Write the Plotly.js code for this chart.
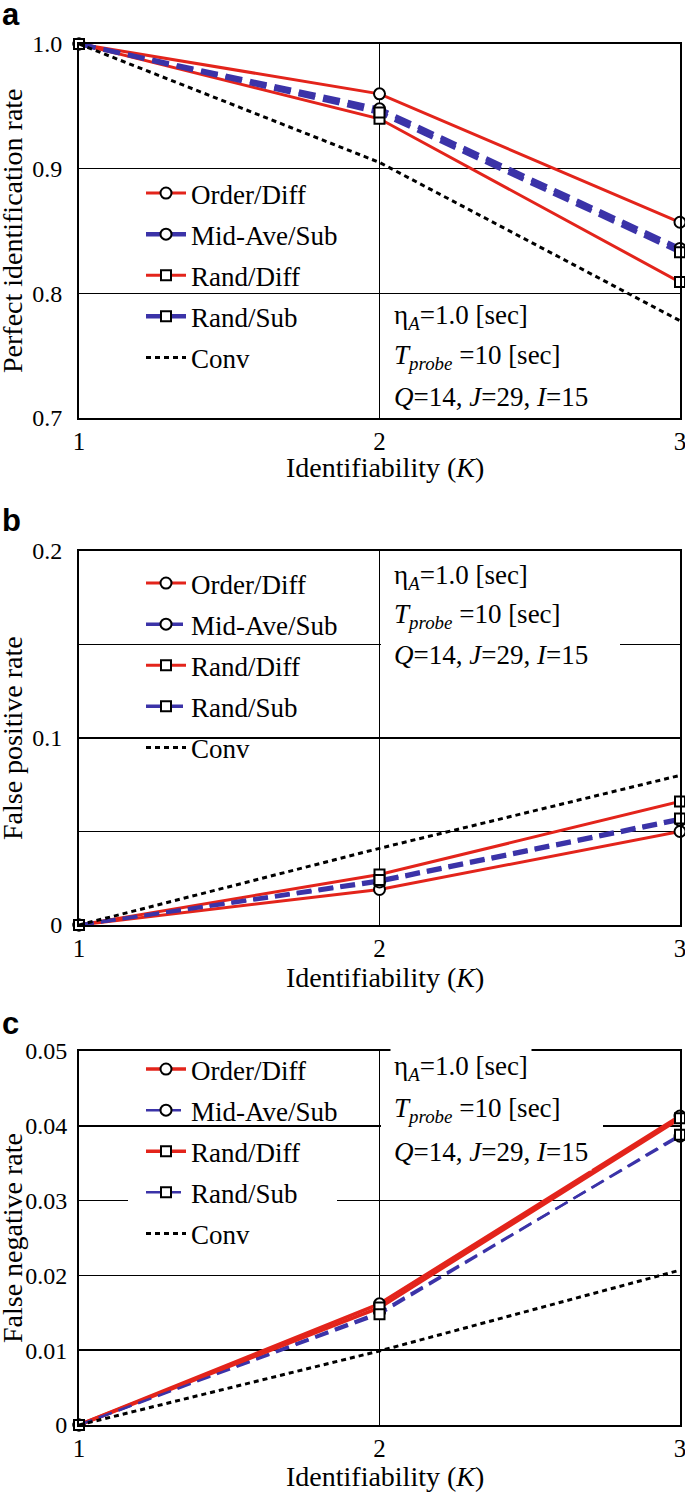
<!DOCTYPE html>
<html>
<head>
<meta charset="utf-8">
<script src="https://cdn.plot.ly/plotly-3.0.1.min.js"></script>
<style>html,body{margin:0;padding:0;background:#fff;}#chart{width:685px;height:1492px;}</style>
</head>
<body>
<div id="chart"></div>
<script>
// ---- data ----
const K = [1, 2, 3];
const seriesNames = ['Order/Diff', 'Mid-Ave/Sub', 'Rand/Diff', 'Rand/Sub', 'Conv'];

// (a) Perfect identification rate
const orderDiffA = [1.0, 0.960, 0.857];
const midAveSubA = [1.0, 0.948, 0.836];
const randDiffA  = [1.0, 0.940, 0.809];
const randSubA   = [1.0, 0.945, 0.833];
const convA      = [1.0, 0.905, 0.778];

// (b) False positive rate
const orderDiffB = [0, 0.019, 0.050];
const midAveSubB = [0, 0.023, 0.056];
const randDiffB  = [0, 0.027, 0.066];
const randSubB   = [0, 0.024, 0.057];
const convB      = [0, 0.041, 0.080];

// (c) False negative rate
const orderDiffC = [0, 0.0162, 0.0413];
const midAveSubC = [0, 0.0151, 0.0386];
const randDiffC  = [0, 0.0157, 0.0410];
const randSubC   = [0, 0.0148, 0.0388];
const convC      = [0, 0.0099, 0.0207];

const xTicks = [1, 2, 3];
const yTicksA = [0.7, 0.8, 0.9, 1.0];
const yTicksB = [0, 0.1, 0.2];
const yTicksC = [0, 0.01, 0.02, 0.03, 0.04, 0.05];

const yTitles = ['Perfect identification rate', 'False positive rate', 'False negative rate'];
const xTitle = 'Identifiability (<i>K</i>)';
const panelLabels = ['a', 'b', 'c'];
const noteLines = ['η<sub><i>A</i></sub>=1.0 [sec]', '<i>T</i><sub><i>probe</i></sub> =10 [sec]', '<i>Q</i>=14, <i>J</i>=29, <i>I</i>=15'];

// ---- geometry helpers ----
const W = 685, H = 1492;
const L = 79, R = 680, T = 44, B = 1425;
const px2x = p => (p - L) / (R - L);
const py2y = p => (B - p) / (B - T);

const RED = '#e3241b', BLUE = '#3b33a8';
const FONT = 'Liberation Serif';

const panels = [
  {data: [orderDiffA, midAveSubA, randDiffA, randSubA, convA], top: 44, bot: 418, range: [0.7, 1.0], ticks: yTicksA, fmt: '.1f', redW: 3, blueW: 4.5, blueDash: '17px,8px', minor: null, tstand: 10},
  {data: [orderDiffB, midAveSubB, randDiffB, randSubB, convB], top: 551, bot: 925, range: [0, 0.2], ticks: yTicksB, fmt: '', redW: 3, blueW: 3.5, blueDash: '15px,7px', minor: 0.05, tstand: 10},
  {data: [orderDiffC, midAveSubC, randDiffC, randSubC, convC], top: 1051, bot: 1425, range: [0, 0.05], ticks: yTicksC, fmt: '', redW: 3.5, blueW: 2.5, blueDash: '14px,7px', minor: null, tstand: 5}
];

const legendTops = [169, 559, 1045];
const noteY = [[317, 357, 397], [577, 616, 655], [1068, 1110, 1152]];
const labelY = [14, 520, 1024];
const xTitleY = [468, 978, 1476];
// white masks hiding grid lines behind text (as in the original figure)
const masks = [[381, 620, 636, 652], [381, 603, 1118, 1134], [128, 337, 1187, 1209]];

const traces = [];
const layout = {
  width: W, height: H,
  margin: {l: L, r: W - R, t: T, b: H - B},
  paper_bgcolor: '#fff', plot_bgcolor: '#fff',
  font: {family: FONT, color: '#000'},
  showlegend: true,
  annotations: [], shapes: []
};

panels.forEach((p, i) => {
  const n = i === 0 ? '' : String(i + 1);
  const xa = 'x' + n, ya = 'y' + n;
  const lg = 'legend' + n;
  const styles = [
    {color: RED, dash: 'solid', w: p.redW, sym: 'circle'},
    {color: BLUE, dash: p.blueDash, w: p.blueW, sym: 'circle'},
    {color: RED, dash: 'solid', w: p.redW, sym: 'square'},
    {color: BLUE, dash: p.blueDash, w: p.blueW, sym: 'square'},
    {color: '#000', dash: '5px,4px', w: 3, sym: null}
  ];
  seriesNames.forEach((name, j) => {
    const s = styles[j];
    const tr = {
      type: 'scatter', x: K, y: p.data[j], name: name,
      xaxis: xa, yaxis: ya, legend: lg, legendgroup: 'g' + i + '_' + j,
      mode: s.sym ? 'lines+markers' : 'lines',
      cliponaxis: false,
      line: {color: s.color, width: s.w, dash: s.dash}
    };
    if (s.sym) tr.marker = {symbol: s.sym, size: s.sym === 'circle' ? 11 : 10, color: '#fff', line: {color: '#000', width: 2}};
    traces.push(tr);
  });
  const dom = [py2y(p.bot), py2y(p.top)];
  layout['xaxis' + n] = {
    domain: [0, 1], anchor: ya, range: [1, 3], tickvals: xTicks, ticktext: xTicks.map(String),
    showgrid: true, gridcolor: '#000', gridwidth: 1.5,
    showline: true, mirror: true, linecolor: '#000', linewidth: 2,
    zeroline: false, ticks: '', ticklabelstandoff: 0, ticklabeloverflow: 'allow',
    tickfont: {family: FONT, size: 25, color: '#000'}
  };
  const yax = {
    domain: dom, anchor: xa, range: p.range, tickvals: p.ticks,
    showgrid: true, gridcolor: '#000', gridwidth: 1.5,
    showline: true, mirror: true, linecolor: '#000', linewidth: 2,
    zeroline: false, ticks: '', ticklabelstandoff: p.tstand, ticklabeloverflow: 'allow',
    tickfont: {family: FONT, size: 24, color: '#000'}
  };
  if (p.fmt) yax.tickformat = p.fmt;
  if (p.minor) yax.minor = {dtick: p.minor, tick0: 0, showgrid: true, gridcolor: '#000', gridwidth: 1, ticklen: 0};
  layout['yaxis' + n] = yax;

  layout[lg] = {
    x: px2x(141), y: py2y(legendTops[i]), xref: 'paper', yref: 'paper',
    xanchor: 'left', yanchor: 'top', bgcolor: 'rgba(0,0,0,0)', borderwidth: 0,
    font: {family: FONT, size: 27, color: '#000'},
    tracegroupgap: 3, itemwidth: 40, traceorder: 'grouped'
  };

  // axis titles
  layout.annotations.push({
    xref: 'paper', yref: 'paper', x: px2x(12), y: py2y((p.top + p.bot) / 2),
    xanchor: 'center', yanchor: 'middle', textangle: -90, text: yTitles[i], showarrow: false,
    font: {family: FONT, size: 28, color: '#000'}
  });
  layout.annotations.push({
    xref: 'paper', yref: 'paper', x: px2x(385), y: py2y(xTitleY[i]),
    xanchor: 'center', yanchor: 'middle', text: xTitle, showarrow: false,
    font: {family: FONT, size: 28, color: '#000'}
  });

  noteLines.forEach((t, k) => {
    layout.annotations.push({
      xref: 'paper', yref: 'paper', x: px2x(390), y: py2y(noteY[i][k]),
      xanchor: 'left', yanchor: 'middle', text: t, showarrow: false,
      bgcolor: '#fff', borderpad: 3,
      font: {family: FONT, size: 27, color: '#000'}
    });
  });
  layout.annotations.push({
    xref: 'paper', yref: 'paper', x: px2x(0), y: py2y(labelY[i]),
    xanchor: 'left', yanchor: 'middle', text: '<b>' + panelLabels[i] + '</b>', showarrow: false,
    font: {family: 'Liberation Sans', size: 31, color: '#000'}
  });
});

masks.forEach(m => {
  layout.shapes.push({
    type: 'rect', xref: 'paper', yref: 'paper', layer: 'above',
    x0: px2x(m[0]), x1: px2x(m[1]), y0: py2y(m[3]), y1: py2y(m[2]),
    fillcolor: '#fff', line: {width: 0}
  });
});

Plotly.newPlot('chart', traces, layout, {displayModeBar: false, staticPlot: true});
</script>
</body>
</html>
